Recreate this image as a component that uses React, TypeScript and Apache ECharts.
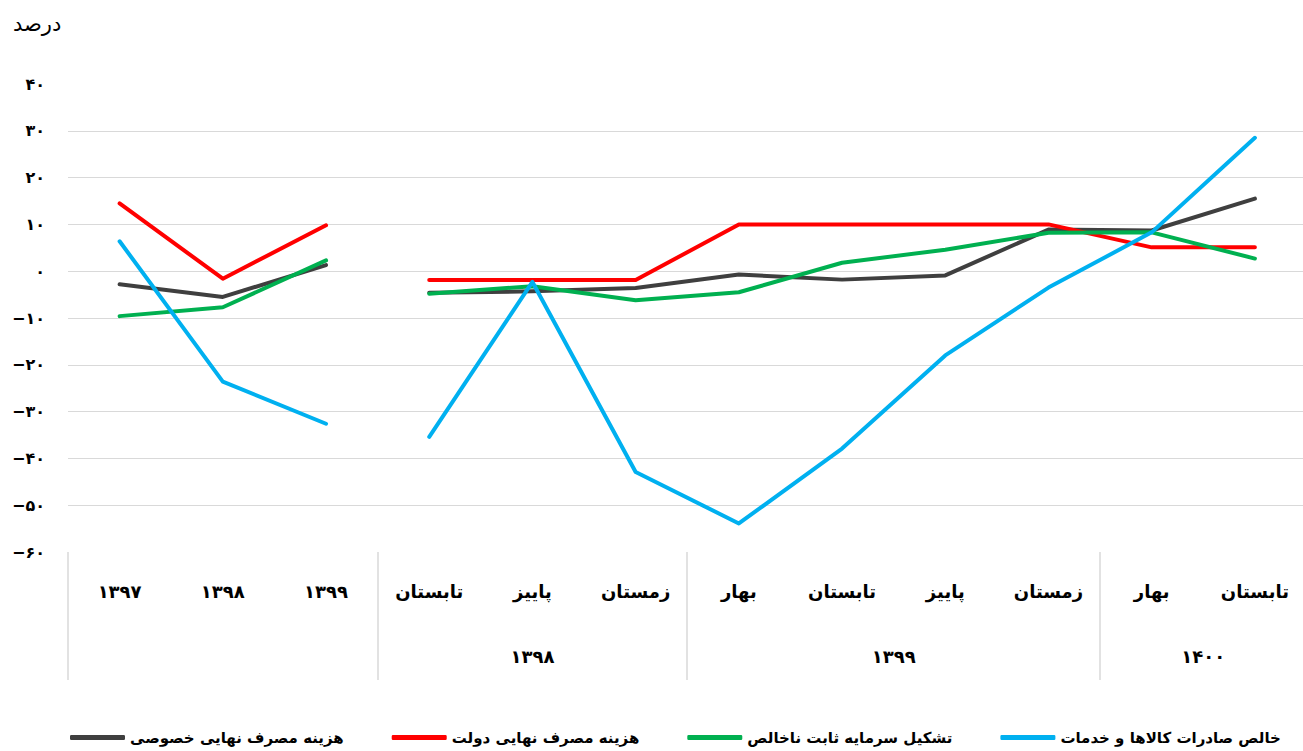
import React, { useEffect, useRef } from "react";
import * as echarts from "echarts";

const categories = [
  "۱۳۹۷", "۱۳۹۸", "۱۳۹۹",
  "تابستان", "پاییز", "زمستان",
  "بهار", "تابستان", "پاییز", "زمستان",
  "بهار", "تابستان",
];
const groupLabels = ["", "۱۳۹۸", "۱۳۹۹", "۱۴۰۰"];
const groupSizes = [3, 3, 4, 2];

const seriesNames = [
  "هزینه مصرف نهایی خصوصی",
  "هزینه مصرف نهایی دولت",
  "تشکیل سرمایه ثابت ناخالص",
  "خالص صادرات کالاها و خدمات",
];
const seriesColors = ["#3f3f3f", "#ff0000", "#00b050", "#00b0f0"];

const privateConsumption = [-2.8, -5.5, 1.3, -4.6, -4.3, -3.6, -0.7, -1.8, -0.9, 8.9, 8.7, 15.5];
const governmentConsumption = [14.5, -1.6, 9.8, -1.9, -1.9, -1.9, 10.0, 10.0, 10.0, 10.0, 5.1, 5.1];
const fixedCapital = [-9.6, -7.7, 2.3, -4.8, -3.2, -6.2, -4.5, 1.8, 4.6, 8.2, 8.3, 2.7];
const netExports = [6.4, -23.6, -32.6, -35.4, -2.3, -42.9, -53.9, -37.9, -18.0, -3.5, 8.3, 28.5];

const yMin = -60;
const yMax = 40;
const yInterval = 10;
const unitLabel = "درصد";

const FONT = "'DejaVu Sans', sans-serif";

const faDigits = "۰۱۲۳۴۵۶۷۸۹";
function toFa(v: number | string): string {
  return String(v)
    .replace(/-/g, "\u2212")
    .replace(/[0-9]/g, (d) => faDigits[Number(d)]);
}

export default function App() {
  const ref = useRef<HTMLDivElement>(null);

  useEffect(() => {
    if (!ref.current) return;
    const chart = echarts.init(ref.current, undefined, { renderer: "svg" });

    const allData = [privateConsumption, governmentConsumption, fixedCapital, netExports];

    const starts: number[] = [];
    let acc = 0;
    groupSizes.forEach((s) => {
      starts.push(acc);
      acc += s;
    });
    const centers = groupSizes.map((s, i) => starts[i] + s / 2);
    const firstGroupEnd = groupSizes[0];

    const series: any[] = [];
    allData.forEach((arr, si) => {
      const seg1 = arr.map((v, i) => (i < firstGroupEnd ? v : null));
      const seg2 = arr.map((v, i) => (i >= firstGroupEnd ? v : null));
      [seg1, seg2].forEach((d) => {
        series.push({
          name: seriesNames[si],
          type: "line",
          data: d,
          symbol: "none",
          connectNulls: false,
          color: seriesColors[si],
          lineStyle: { width: 4, color: seriesColors[si], cap: "round", join: "round" },
          z: si === 3 ? 5 : 3,
        });
      });
    });

    const tickCount = Math.round((yMax - yMin) / yInterval) + 1;
    const splitColors = Array.from({ length: tickCount }, (_, i) =>
      i === 0 || i === tickCount - 1 ? "rgba(0,0,0,0)" : "#d9d9d9"
    );

    chart.setOption({
      animation: false,
      backgroundColor: "#ffffff",
      textStyle: { fontFamily: FONT },
      title: {
        text: unitLabel,
        left: 8,
        top: 8,
        textStyle: { fontFamily: FONT, fontSize: 21, fontWeight: "normal", color: "#000" },
      },
      legend: {
        data: seriesNames,
        left: 70,
        top: 730,
        padding: 0,
        width: 1240,
        icon: "roundRect",
        itemWidth: 55,
        itemHeight: 5,
        itemGap: 48,
        textStyle: { fontFamily: FONT, fontSize: 15, fontWeight: "bold", color: "#000" },
      },
      grid: { left: 68, right: 3.5, top: 84, bottom: 199 },
      xAxis: [
        {
          type: "category",
          data: categories,
          boundaryGap: true,
          position: "bottom",
          axisLine: { show: false, onZero: false },
          axisTick: {
            show: true,
            alignWithLabel: false,
            length: 128,
            interval: (index: number) => starts.includes(index),
            lineStyle: { color: "#d9d9d9", width: 1.5 },
          },
          axisLabel: {
            interval: 0,
            margin: 30,
            fontFamily: FONT,
            fontSize: 18,
            fontWeight: "bold",
            color: "#000",
          },
          splitLine: { show: false },
        },
        {
          type: "value",
          position: "bottom",
          min: 0,
          max: categories.length,
          interval: 0.5,
          axisLine: { show: false, onZero: false },
          axisTick: { show: false },
          splitLine: { show: false },
          axisLabel: {
            margin: 95,
            fontFamily: FONT,
            fontSize: 18,
            fontWeight: "bold",
            color: "#000",
            showMinLabel: true,
            showMaxLabel: true,
            formatter: (v: number) => {
              const gi = centers.findIndex((c) => Math.abs(c - v) < 1e-6);
              return gi >= 0 ? groupLabels[gi] : "";
            },
          },
        },
      ],
      yAxis: {
        type: "value",
        min: yMin,
        max: yMax,
        interval: yInterval,
        axisLine: { show: false },
        axisTick: { show: false },
        axisLabel: {
          margin: 23,
          fontFamily: FONT,
          fontSize: 16,
          fontWeight: "bold",
          color: "#000",
          formatter: (v: number) => toFa(v),
        },
        splitLine: { show: true, lineStyle: { color: splitColors, width: 1.2 } },
      },
      series,
    });

    return () => {
      chart.dispose();
    };
  }, []);

  return (
    <div
      style={{
        position: "absolute",
        left: 0,
        top: 0,
        width: 1303,
        height: 751,
        overflow: "hidden",
        background: "#fff",
      }}
    >
      <div ref={ref} style={{ width: 1310, height: 751 }} />
    </div>
  );
}
